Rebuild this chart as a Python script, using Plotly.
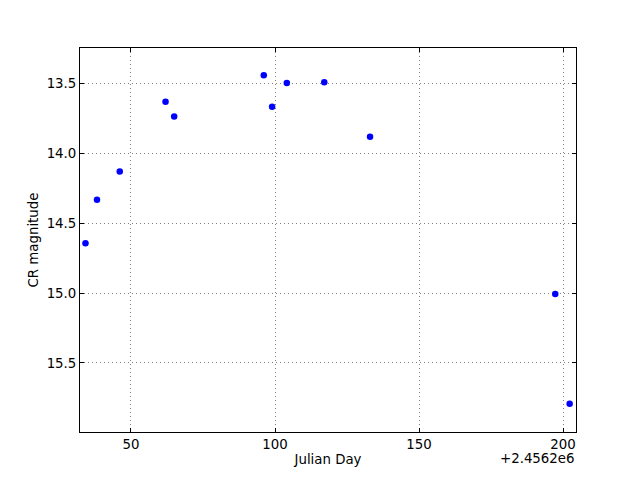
import plotly.graph_objects as go

offset_label = "+2.4562e6"
julian_day_offset = [34.2, 38.2, 46.1, 62.0, 65.0, 96.1, 99.0, 104.1, 117.1, 133.0, 197.3, 202.3]
cr_magnitude = [14.643, 14.331, 14.129, 13.629, 13.734, 13.440, 13.665, 13.495, 13.49, 13.88, 15.006, 15.792]
x_ticks = [50, 100, 150, 200]
y_ticks = [13.5, 14.0, 14.5, 15.0, 15.5]

font = dict(family="DejaVu Sans", size=13.33, color="black")

fig = go.Figure()
fig.add_trace(go.Scatter(
    x=julian_day_offset, y=cr_magnitude, mode="markers",
    marker=dict(color="#0000ff", size=6.5, line=dict(width=0)),
))

axis_common = dict(
    showline=True, linecolor="black", linewidth=1, mirror="allticks",
    ticks="inside", ticklen=4, tickcolor="black", tickwidth=1,
    showgrid=True, gridcolor="#808080", griddash="1px,3px", gridwidth=1,
    zeroline=False, tickfont=font,
)

fig.update_layout(
    width=640, height=480,
    paper_bgcolor="white", plot_bgcolor="white",
    margin=dict(l=72, r=72, t=40, b=56),
    showlegend=False, font=font,
    xaxis=dict(range=[32.3, 204.5], tickvals=x_ticks, ticktext=[str(v) for v in x_ticks],
               title=dict(text="Julian Day", font=font, standoff=3), **axis_common),
    yaxis=dict(range=[15.995, 13.244], tickvals=y_ticks, ticktext=[f"{v:.1f}" for v in y_ticks],
               title=dict(text="CR magnitude", font=font, standoff=4), **axis_common),
)

fig.add_annotation(text=offset_label, xref="paper", yref="paper", x=1.0, y=0,
                   xanchor="right", yanchor="top", yshift=-17, showarrow=False, font=font)

fig.write_html("out.html")
